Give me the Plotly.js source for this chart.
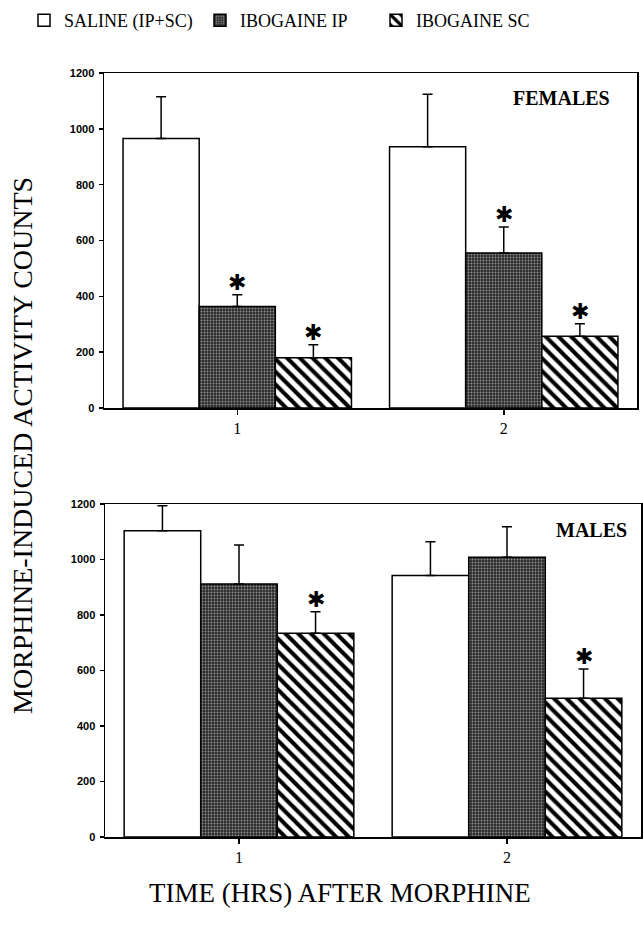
<!DOCTYPE html>
<html>
<head>
<meta charset="utf-8">
<script src="https://cdn.plot.ly/plotly-3.0.1.min.js"></script>
<style>html,body{margin:0;padding:0;background:#fff;}#chart{width:643px;height:938px;}</style>
</head>
<body>
<div id="chart"></div>
<script>
// ---- data ----
var hours = [1, 2];
var groups = ["SALINE (IP+SC)", "IBOGAINE IP", "IBOGAINE SC"];
// Females (top panel)
var femSaline = [965, 936];
var femSalineErr = [1115, 1124];
var femIP = [364, 555];
var femIPErr = [406, 648];
var femSC = [180, 257];
var femSCErr = [227, 302];
var femSig = [[false, false], [true, true], [true, true]];
// Males (bottom panel)
var maleSaline = [1104, 942];
var maleSalineErr = [1194, 1064];
var maleIP = [912, 1008];
var maleIPErr = [1052, 1118];
var maleSC = [734, 500];
var maleSCErr = [812, 605];
var maleSig = [[false, false], [false, false], [true, true]];
var yTicks = [0, 200, 400, 600, 800, 1000, 1200];

// ---- styles ----
var W = 643, H = 938;
var BARGAP = 0.143;
var serif = "Liberation Serif";
var styles = [
  {color: "white", pattern: {shape: ""}},
  {color: "#3a3a3a", pattern: {shape: ".", bgcolor: "#2c2c2c", fgcolor: "#909090", size: 3, solidity: 0.3}},
  {color: "white", pattern: {shape: "\\", bgcolor: "white", fgcolor: "black", size: 9, solidity: 0.45}}
];

function upper(vals, tops) { return tops.map(function (t, i) { return t - vals[i]; }); }

function panelTraces(vals, tops, xa, ya, showLegend) {
  return vals.map(function (v, k) {
    return {
      type: "bar", x: hours, y: v, name: groups[k], xaxis: xa, yaxis: ya,
      showlegend: showLegend, legendgroup: groups[k],
      marker: {color: styles[k].color, pattern: styles[k].pattern, line: {color: "black", width: 1.5}},
      error_y: {type: "data", symmetric: false, array: upper(v, tops[k]), arrayminus: [0, 0],
                color: "black", thickness: 1.5, width: 5},
      hoverinfo: "y"
    };
  });
}

var data = []
  .concat(panelTraces([femSaline, femIP, femSC], [femSalineErr, femIPErr, femSCErr], "x", "y", true))
  .concat(panelTraces([maleSaline, maleIP, maleSC], [maleSalineErr, maleIPErr, maleSCErr], "x2", "y2", false));

// asterisk annotations above significant error bars
var annotations = [];
var barW = (1 - BARGAP) / 3;
function addStars(sig, tops, xr, yr) {
  sig.forEach(function (row, k) {
    row.forEach(function (s, i) {
      if (!s) return;
      annotations.push({
        xref: xr, yref: yr, x: hours[i] + (k - 1) * barW, y: tops[k][i],
        text: "\u2731", showarrow: false, yanchor: "bottom", yshift: -2,
        font: {family: "DejaVu Sans", size: 22, color: "black"}
      });
    });
  });
}
addStars(femSig, [femSalineErr, femIPErr, femSCErr], "x", "y");
addStars(maleSig, [maleSalineErr, maleIPErr, maleSCErr], "x2", "y2");

annotations.push({xref: "paper", yref: "paper", x: 612 / W, y: 1 - 98 / H, xanchor: "right", yanchor: "middle",
  text: "<b>FEMALES</b>", showarrow: false, font: {family: serif, size: 20, color: "black"}});
annotations.push({xref: "paper", yref: "paper", x: 629 / W, y: 1 - 530 / H, xanchor: "right", yanchor: "middle",
  text: "<b>MALES</b>", showarrow: false, font: {family: serif, size: 20, color: "black"}});
annotations.push({xref: "paper", yref: "paper", x: 22 / W, y: 1 - 446 / H, xanchor: "center", yanchor: "middle",
  text: "MORPHINE-INDUCED ACTIVITY COUNTS", textangle: -90, showarrow: false,
  font: {family: serif, size: 28, color: "black"}});
annotations.push({xref: "paper", yref: "paper", x: 340 / W, y: 1 - 893 / H, xanchor: "center", yanchor: "middle",
  text: "TIME (HRS) AFTER MORPHINE", showarrow: false,
  font: {family: serif, size: 27, color: "black"}});

function xAxis(d, anchor) {
  return {domain: d, anchor: anchor, range: [0.5, 2.5], tickvals: hours, ticktext: ["1", "2"],
    ticks: "outside", ticklen: 5, tickwidth: 1.5, tickcolor: "black",
    showline: true, linecolor: "black", linewidth: 1.5, mirror: true, showgrid: false, zeroline: false,
    tickfont: {family: serif, size: 16, color: "black"}, fixedrange: true};
}
function yAxis(d, anchor) {
  return {domain: d, anchor: anchor, range: [0, 1200], tickvals: yTicks,
    ticks: "outside", ticklen: 4, tickwidth: 1.5, tickcolor: "black", ticklabelstandoff: 2,
    showline: true, linecolor: "black", linewidth: 1.5, mirror: true, showgrid: false, zeroline: false,
    tickfont: {family: "Liberation Sans", size: 11, color: "black", weight: "bold"}, fixedrange: true};
}

var layout = {
  width: W, height: H, margin: {l: 0, r: 0, t: 0, b: 0},
  paper_bgcolor: "white", plot_bgcolor: "white",
  barmode: "group", bargap: BARGAP, bargroupgap: 0,
  xaxis: xAxis([104 / W, 637 / W], "y"),
  yaxis: yAxis([1 - 408 / H, 1 - 73 / H], "x"),
  xaxis2: xAxis([105 / W, 641 / W], "y2"),
  yaxis2: yAxis([1 - 837 / H, 1 - 504 / H], "x2"),
  showlegend: true,
  legend: {orientation: "h", x: 24 / W, y: 1 - 2 / H, xanchor: "left", yanchor: "top",
    entrywidth: 131, entrywidthmode: "pixels", traceorder: "normal",
    font: {family: serif, size: 18, color: "black"}, bgcolor: "rgba(0,0,0,0)", borderwidth: 0},
  annotations: annotations
};

Plotly.newPlot("chart", data, layout, {displayModeBar: false, staticPlot: true});
</script>
</body>
</html>
